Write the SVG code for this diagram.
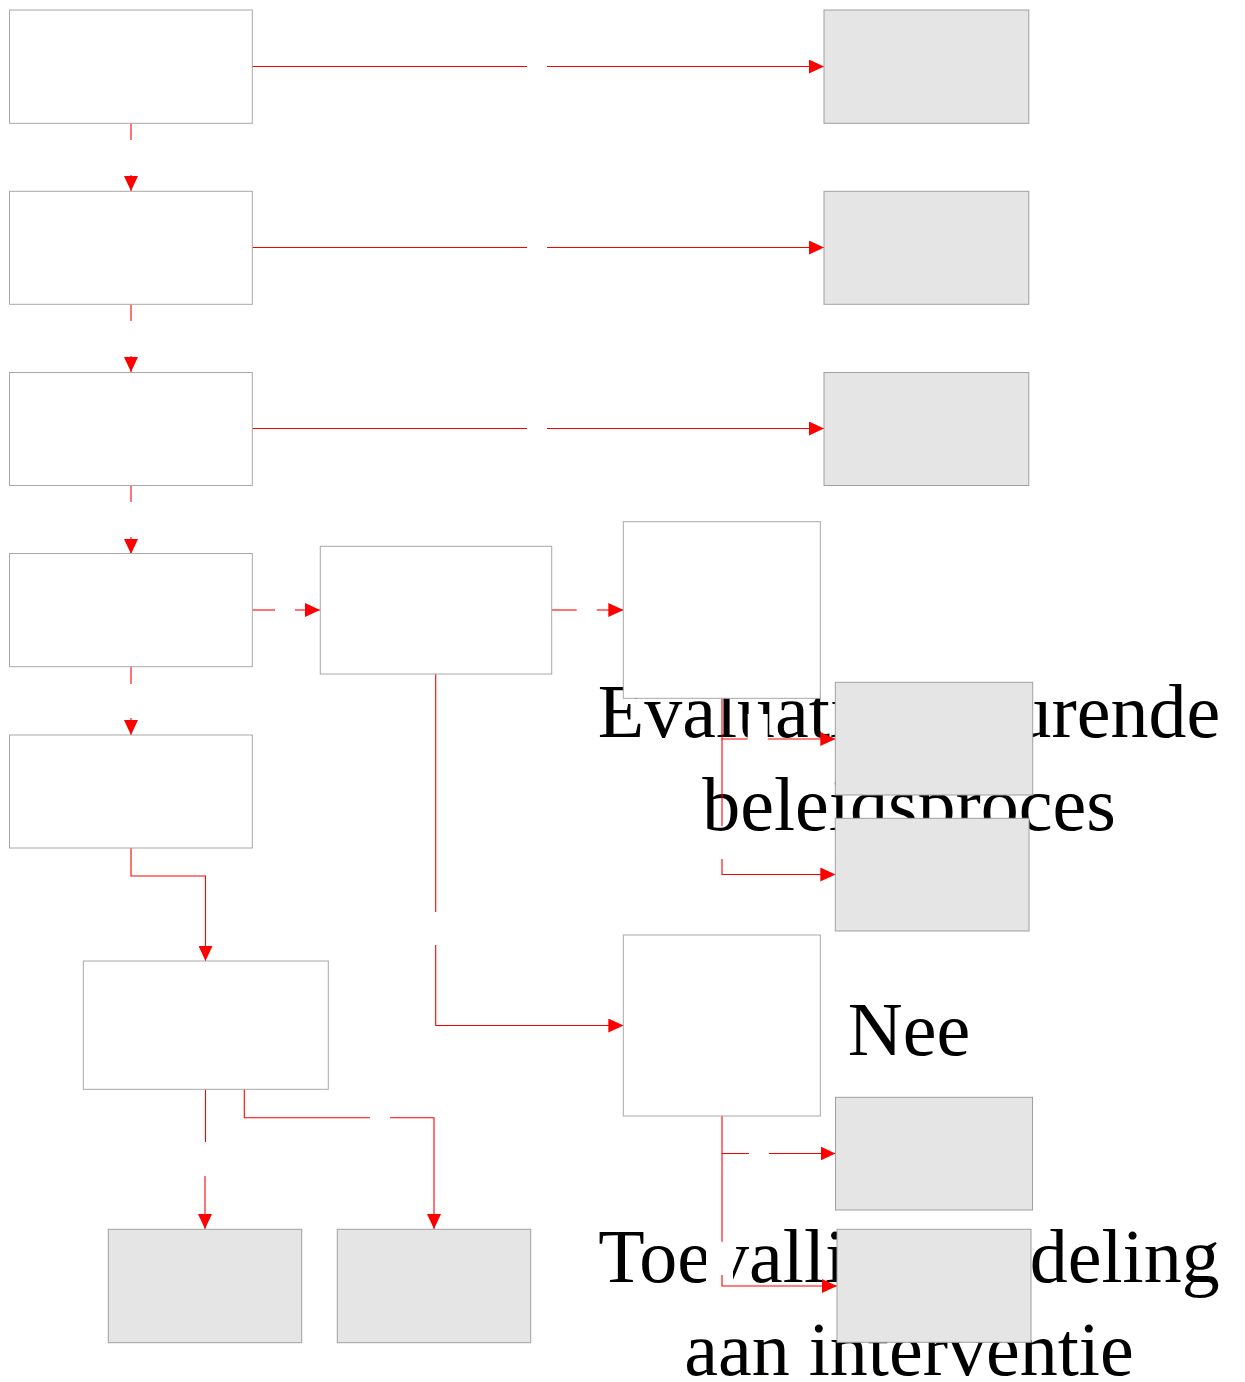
<svg xmlns="http://www.w3.org/2000/svg" width="1245" height="1382" viewBox="0 0 1245 1382">
<defs>
<style>
.n{fill:#ffffff;stroke:#a8a8a8;stroke-width:1}
.g{fill:#e5e5e5;stroke:#a0a0a0;stroke-width:1}
.c{fill:none;stroke:#ff0000;stroke-width:1.1}
.t{font-family:"Liberation Serif","Times New Roman",serif;font-size:76px;fill:#000000;text-anchor:middle}
.p{fill:#ffffff;stroke:none}
</style>
<marker id="ah" markerUnits="userSpaceOnUse" markerWidth="15" markerHeight="14" refX="15" refY="7" orient="auto">
<path d="M0,0 L15,7 L0,14 Z" fill="#ff0000"/>
</marker>
</defs>
<rect width="1245" height="1382" fill="#ffffff"/>
<g id="labels">
<text class="t" x="909" y="737">Evaluatie gedurende</text>
<text class="t" x="909" y="830">beleidsproces</text>
<text class="t" x="909" y="1055">Nee</text>
<text class="t" x="909" y="1282">Toevallige toedeling</text>
<text class="t" x="909" y="1375">aan interventie</text>
<rect class="p" x="747.7" y="714" width="20" height="50"/>
<rect class="p" x="706" y="1241" width="27" height="46"/>
</g>
<g id="connectors">
<path class="c" d="M252,66.5 H527"/><path class="c" d="M547,66.5 H824" marker-end="url(#ah)"/>
<path class="c" d="M252,247.5 H527"/><path class="c" d="M547,247.5 H824" marker-end="url(#ah)"/>
<path class="c" d="M252,428.5 H527"/><path class="c" d="M547,428.5 H824" marker-end="url(#ah)"/>
<path class="c" d="M131,123 V140"/><path class="c" d="M131,175 V191" marker-end="url(#ah)"/>
<path class="c" d="M131,304 V321"/><path class="c" d="M131,356 V372" marker-end="url(#ah)"/>
<path class="c" d="M131,485 V502"/><path class="c" d="M131,537 V554" marker-end="url(#ah)"/>
<path class="c" d="M131,667 V684"/><path class="c" d="M131,718 V735" marker-end="url(#ah)"/>
<path class="c" d="M252,610 H275"/><path class="c" d="M295,610 H320" marker-end="url(#ah)"/>
<path class="c" d="M551.7,610 H576.7"/><path class="c" d="M596.7,610 H623.3" marker-end="url(#ah)"/>
<path class="c" d="M131,848 V876 H205.5 V961" marker-end="url(#ah)"/>
<path class="c" d="M205.5,1089 V1142"/><path class="c" d="M205,1176 V1229" marker-end="url(#ah)"/>
<path class="c" d="M244.3,1089 V1117.7 H370"/><path class="c" d="M390,1117.7 H434 V1229" marker-end="url(#ah)"/>
<path class="c" d="M435.7,674 V912"/><path class="c" d="M435.7,945 V1025.5 H623.3" marker-end="url(#ah)"/>
<path class="c" d="M722,698 V739 H747.7"/><path class="c" d="M767.7,739 H835.3" marker-end="url(#ah)"/>
<path class="c" d="M722,739 V826"/><path class="c" d="M722,859 V874.5 H835.3" marker-end="url(#ah)"/>
<path class="c" d="M722,1116 V1153.5 H749"/><path class="c" d="M769,1153.5 H835.5" marker-end="url(#ah)"/>
<path class="c" d="M722,1153.5 V1241.7"/><path class="c" d="M722,1275 V1286 H837" marker-end="url(#ah)"/>
</g>
<g id="node1"><rect class="n" x="9.5" y="10" width="242.8" height="113.3"/></g>
<g id="node2"><rect class="n" x="9.5" y="191.3" width="242.8" height="113"/></g>
<g id="node3"><rect class="n" x="9.5" y="372.5" width="242.8" height="113"/></g>
<g id="node4"><rect class="n" x="9.5" y="553.5" width="242.8" height="113.2"/></g>
<g id="node5"><rect class="n" x="9.5" y="735" width="242.8" height="113"/></g>
<g id="node6"><rect class="n" x="83.3" y="961" width="245" height="128.3"/></g>
<g id="node7"><rect class="n" x="320.3" y="546.3" width="231.4" height="127.7"/></g>
<g id="node8"><rect class="n" x="623.3" y="521.7" width="197" height="176.6"/></g>
<g id="node9"><rect class="n" x="623.3" y="935" width="197" height="181"/></g>
<g id="out1"><rect class="g" x="824" y="10" width="204.8" height="113.3"/></g>
<g id="out2"><rect class="g" x="824" y="191.3" width="204.8" height="113"/></g>
<g id="out3"><rect class="g" x="824" y="372.5" width="204.8" height="113"/></g>
<g id="out4"><rect class="g" x="835.3" y="682.3" width="197.4" height="112.7"/></g>
<g id="out5"><rect class="g" x="835.3" y="818.3" width="193.7" height="112.7"/></g>
<g id="out6"><rect class="g" x="835.5" y="1097.3" width="197" height="112.7"/></g>
<g id="out7"><rect class="g" x="837" y="1229.3" width="194" height="113"/></g>
<g id="out8"><rect class="g" x="108.3" y="1229.3" width="193.4" height="113.4"/></g>
<g id="out9"><rect class="g" x="337.3" y="1229.3" width="193.4" height="113.4"/></g>
</svg>
